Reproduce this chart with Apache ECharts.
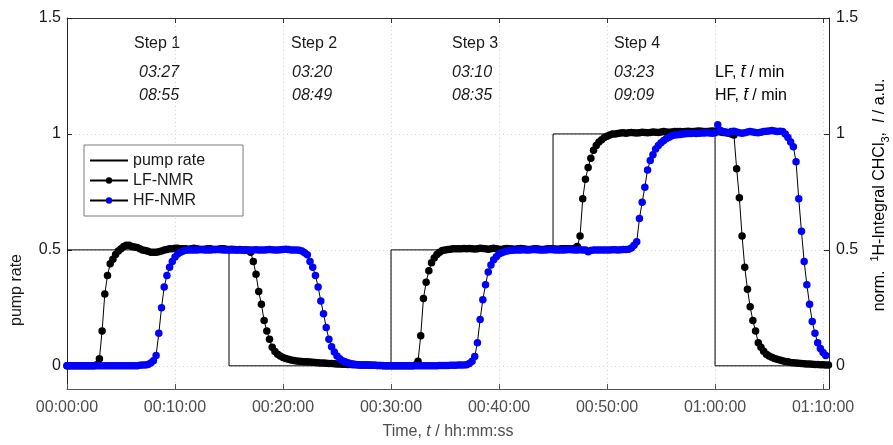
<!DOCTYPE html>
<html>
<head>
<meta charset="utf-8">
<script src="https://cdn.jsdelivr.net/npm/echarts@6/dist/echarts.min.js"></script>
<style>
html, body { margin: 0; padding: 0; background: #fff; }
#chart { width: 893px; height: 445px; }
</style>
</head>
<body>
<div id="chart"></div>
<script>
// 采样间隔 (min)
var sampleStep = 0.25;

// 泵速 阶跃
var pumpTime = [0, 15, 30, 45, 60, 70.5];
var pumpRate = [0.5, 0, 0.5, 1, 0, 0];

// LF-NMR 归一化积分
var lfValues = [
    0, 0, 0, 0,  0, 0, 0, 0,  0, 0, 0, 0.005,
    0.03, 0.15, 0.31, 0.39,  0.44, 0.46, 0.48, 0.495,
    0.505, 0.515, 0.52, 0.52,  0.515, 0.512, 0.51, 0.505,
    0.5, 0.497, 0.494, 0.49,  0.49, 0.49, 0.492, 0.495,
    0.5, 0.502, 0.505, 0.505,  0.507, 0.507, 0.505, 0.505,
    0.505, 0.503, 0.505, 0.507,  0.505, 0.503, 0.502, 0.503,
    0.505, 0.505, 0.503, 0.502,  0.503, 0.505, 0.505, 0.503,
    0.502, 0.503, 0.502, 0.5,  0.502, 0.5, 0.5, 0.5,
    0.49, 0.45, 0.395, 0.32,  0.265, 0.195, 0.15, 0.115,
    0.08, 0.062, 0.05, 0.042,  0.036, 0.031, 0.028, 0.025,
    0.023, 0.021, 0.02, 0.019,  0.018, 0.017, 0.016, 0.015,
    0.014, 0.013, 0.012, 0.012,  0.011, 0.01, 0.01, 0.009,
    0.008, 0.008, 0.007, 0.007,  0.006, 0.006, 0.005, 0.005,
    0.004, 0.004, 0.003, 0.003,  0.003, 0.002, 0.002, 0.001,
    0.001, 0, 0, 0,  0, 0, 0, 0,  0, 0, 0, 0,
    0, 0.003, 0.02, 0.13,  0.29, 0.36, 0.41, 0.445,
    0.465, 0.48, 0.49, 0.497,  0.5, 0.502, 0.503, 0.505,
    0.505, 0.505, 0.505, 0.506,  0.505, 0.506, 0.505, 0.504,
    0.505, 0.507, 0.506, 0.505,  0.503, 0.505, 0.507, 0.505,
    0.503, 0.502, 0.505, 0.506,  0.505, 0.504, 0.503, 0.505,
    0.506, 0.505, 0.503, 0.502,  0.503, 0.505, 0.505, 0.503,
    0.502, 0.503, 0.505, 0.505,  0.505, 0.504, 0.503, 0.505,
    0.505, 0.505, 0.505, 0.505,  0.507, 0.515, 0.56, 0.72,
    0.805, 0.855, 0.895, 0.93,  0.95, 0.965, 0.975, 0.985,
    0.99, 0.995, 1.0, 1.0,  1.002, 1.004, 1.005, 1.003,
    1.005, 1.006, 1.005, 1.004,  1.005, 1.007, 1.006, 1.005,
    1.006, 1.008, 1.007, 1.006,  1.008, 1.01, 1.008, 1.007,
    1.008, 1.01, 1.011, 1.01,  1.009, 1.01, 1.012, 1.011,
    1.01, 1.012, 1.013, 1.012,  1.011, 1.01, 1.012, 1.013,
    1.012, 1.01, 1.008, 1.006,  1.005, 1.003, 1.0, 0.995,
    0.85, 0.725, 0.56, 0.425,  0.33, 0.255, 0.195, 0.15,
    0.1, 0.08, 0.063, 0.05,  0.042, 0.037, 0.032, 0.028,
    0.025, 0.022, 0.019, 0.017,  0.014, 0.013, 0.012, 0.011,
    0.01, 0.009, 0.008, 0.008,  0.007, 0.006, 0.006, 0.005,
    0.005, 0.004, 0.004
];

// HF-NMR 归一化积分
var hfValues = [
    0, 0, 0, 0,  0, 0, 0, 0,  0, 0, 0, 0,  0, 0, 0, 0,
    0, 0, 0, 0,  0, 0, 0, 0,  0, 0, 0, 0.002,
    0.003, 0.004, 0.006, 0.012,  0.022, 0.045, 0.14, 0.25,
    0.34, 0.39, 0.425, 0.45,  0.469, 0.482, 0.49, 0.495,
    0.498, 0.5, 0.5, 0.5,  0.5, 0.501, 0.502, 0.5,
    0.5, 0.5, 0.501, 0.502,  0.502, 0.501, 0.5, 0.5,
    0.5, 0.499, 0.5, 0.501,  0.5, 0.5, 0.499, 0.498,
    0.499, 0.5, 0.501, 0.5,  0.5, 0.5, 0.501, 0.502,
    0.501, 0.5, 0.5, 0.501,  0.502, 0.503, 0.502, 0.5,
    0.5, 0.5, 0.498, 0.495,  0.488, 0.479, 0.45, 0.425,
    0.39, 0.34, 0.28, 0.225,  0.165, 0.115, 0.082, 0.06,
    0.042, 0.03, 0.022, 0.017,  0.013, 0.01, 0.008, 0.006,
    0.005, 0.004, 0.003, 0.003,  0.002, 0.002, 0.002, 0.001,
    0.001, 0.001, 0, 0,  0, 0, 0, 0,  0, 0, 0, 0,
    0, 0, 0, 0,  0, 0, 0, 0,  0, 0, 0.001, 0.001,
    0.001, 0.001, 0.002, 0.002,  0.002, 0.003, 0.003, 0.004,
    0.005, 0.01, 0.02, 0.04,  0.1, 0.2, 0.285, 0.35,
    0.405, 0.435, 0.457, 0.47,  0.482, 0.488, 0.492, 0.495,
    0.497, 0.498, 0.5, 0.5,  0.5, 0.501, 0.5, 0.5,
    0.501, 0.502, 0.501, 0.5,  0.5, 0.5, 0.501, 0.502,
    0.501, 0.5, 0.5, 0.5,  0.5, 0.501, 0.502, 0.501,
    0.5, 0.5, 0.501, 0.5,  0.5, 0.492, 0.497, 0.499,
    0.5, 0.5, 0.5, 0.5,  0.5, 0.5, 0.501, 0.501,
    0.5, 0.501, 0.502, 0.502,  0.503, 0.508, 0.52, 0.535,
    0.635, 0.705, 0.77, 0.845,  0.885, 0.91, 0.935, 0.95,
    0.962, 0.972, 0.98, 0.986,  0.992, 0.995, 0.997, 0.998,
    1.0, 1.001, 1.002, 1.002,  1.003, 1.002, 1.003, 1.004,
    1.004, 1.005, 1.004, 1.003,  1.005, 1.04, 1.015, 1.01,
    1.008, 1.005, 1.01, 1.012,  1.008, 1.005, 1.003, 1.005,
    1.008, 1.01, 1.008, 1.006,  1.005, 1.007, 1.01, 1.012,
    1.013, 1.015, 1.013, 1.01,  1.012, 1.01, 1.0, 0.985,
    0.965, 0.945, 0.88, 0.72,  0.58, 0.45, 0.35, 0.265,
    0.191, 0.14, 0.1, 0.075,  0.057, 0.045
];

// 刻度
var xTicks = [0, 10, 20, 30, 40, 50, 60, 70];
var yTicks = [0, 0.5, 1, 1.5];

// 标注文字
var stepNames = ['Step 1', 'Step 2', 'Step 3', 'Step 4'];
var lfMeanTimes = ['03:27', '03:20', '03:10', '03:23'];
var hfMeanTimes = ['08:55', '08:49', '08:35', '09:09'];

var FONT = '"Liberation Sans", Arial, sans-serif';

function toPairs (values) {
    return values.map(function (v, i) { return [i * sampleStep, v]; });
}

function pad (n) { return (n < 10 ? '0' : '') + n; }

// 分钟 -> hh:mm:ss
function fmtTime (m) {
    var s = Math.round(m * 60);
    return pad(Math.floor(s / 3600)) + ':' + pad(Math.floor(s % 3600 / 60)) + ':' + pad(s % 60);
}

function initChart () {
    var chart = echarts.init(document.getElementById('chart'), null, { renderer: 'canvas' });

    var pumpData = pumpTime.map(function (t, i) { return [t, pumpRate[i]]; });

    // 顶部标注
    var stepX = [134, 291, 452, 614];
    var timeX = [139, 292, 452, 614];
    var graphics = [];
    stepNames.forEach(function (name, i) {
        graphics.push({ type: 'text', x: stepX[i], y: 44, style: { text: name, font: '16px ' + FONT, fill: '#1a1a1a', verticalAlign: 'middle' } });
        graphics.push({ type: 'text', x: timeX[i], y: 73, style: { text: lfMeanTimes[i], font: 'italic 16px ' + FONT, fill: '#1a1a1a', verticalAlign: 'middle' } });
        graphics.push({ type: 'text', x: timeX[i], y: 96, style: { text: hfMeanTimes[i], font: 'italic 16px ' + FONT, fill: '#1a1a1a', verticalAlign: 'middle' } });
    });
    var richT = {
        n: { fontFamily: FONT, fontSize: 16, color: '#1a1a1a' },
        i: { fontFamily: FONT, fontSize: 16, fontStyle: 'italic', color: '#1a1a1a' }
    };
    graphics.push({ type: 'text', x: 715, y: 73, style: { text: '{n|LF, }{i|t\u0304}{n| / min}', rich: richT, verticalAlign: 'middle' } });
    graphics.push({ type: 'text', x: 715, y: 96, style: { text: '{n|HF, }{i|t\u0304}{n| / min}', rich: richT, verticalAlign: 'middle' } });

    // 纵轴名称
    graphics.push({
        type: 'text', x: 17, y: 290, rotation: Math.PI / 2,
        style: { text: 'pump rate', font: '16px ' + FONT, fill: '#1a1a1a', align: 'center', verticalAlign: 'middle' }
    });
    graphics.push({
        type: 'text', x: 880, y: 195, rotation: Math.PI / 2,
        style: {
            text: '{n|norm.  }{sup|1}{n|H-Integral CHCl}{sub|3}{n|,  }{i|I}{n| / a.u.}',
            align: 'center', verticalAlign: 'middle',
            rich: {
                n: { fontFamily: FONT, fontSize: 16, color: '#1a1a1a', lineHeight: 22 },
                i: { fontFamily: FONT, fontSize: 16, fontStyle: 'italic', color: '#1a1a1a', lineHeight: 22 },
                sup: { fontFamily: FONT, fontSize: 11, color: '#1a1a1a', lineHeight: 11, verticalAlign: 'top' },
                sub: { fontFamily: FONT, fontSize: 11, color: '#1a1a1a', lineHeight: 11, verticalAlign: 'bottom' }
            }
        }
    });

    var axisBase = {
        type: 'value',
        min: 0,
        max: 70.55
    };

    var option = {
        animation: false,
        backgroundColor: '#fff',
        grid: { left: 67, right: 64, top: 18, bottom: 51 },
        legend: {
            orient: 'vertical',
            left: 84,
            top: 145,
            data: [
                { name: 'pump rate', itemStyle: { color: 'rgba(0,0,0,0)', borderWidth: 0 } },
                'LF-NMR',
                'HF-NMR'
            ],
            backgroundColor: '#fff',
            borderColor: '#7a7a7a',
            borderWidth: 1,
            borderRadius: 0,
            padding: [7, 38, 7, 5],
            itemGap: 3,
            itemWidth: 38,
            itemHeight: 8,
            textStyle: { fontFamily: FONT, fontSize: 16, color: '#1a1a1a', lineHeight: 17 }
        },
        xAxis: [
            Object.assign({}, axisBase, {
                position: 'bottom',
                name: '{n|Time, }{i|t}{n| / hh:mm:ss}',
                nameLocation: 'middle',
                nameGap: 35,
                nameTextStyle: {
                    rich: {
                        n: { fontFamily: FONT, fontSize: 16, color: '#4d4d4d' },
                        i: { fontFamily: FONT, fontSize: 16, fontStyle: 'italic', color: '#4d4d4d' }
                    }
                },
                axisLine: { show: true, onZero: false, lineStyle: { color: '#555', width: 1 } },
                axisTick: { show: true, inside: true, length: 5, customValues: xTicks, lineStyle: { color: '#555' } },
                axisLabel: { customValues: xTicks, formatter: fmtTime, color: '#4d4d4d', fontFamily: FONT, fontSize: 16, margin: 11 },
                splitLine: { show: true, lineStyle: { color: '#d6d6d6', type: [1, 3] } }
            }),
            Object.assign({}, axisBase, {
                position: 'top',
                axisLine: { show: true, onZero: false, lineStyle: { color: '#333', width: 1 } },
                axisTick: { show: true, inside: true, length: 5, customValues: xTicks, lineStyle: { color: '#333' } },
                axisLabel: { show: false },
                splitLine: { show: false }
            })
        ],
        yAxis: [
            {
                type: 'value', min: -0.1, max: 1.5, position: 'left',
                axisLine: { show: true, onZero: false, lineStyle: { color: '#262626', width: 1 } },
                axisTick: { show: true, inside: true, length: 5, customValues: yTicks, lineStyle: { color: '#262626' } },
                axisLabel: { customValues: yTicks, color: '#1a1a1a', fontFamily: FONT, fontSize: 16, margin: 6 },
                splitLine: { show: true, lineStyle: { color: '#d6d6d6', type: [1, 3] } }
            },
            {
                type: 'value', min: -0.1, max: 1.5, position: 'right',
                axisLine: { show: true, onZero: false, lineStyle: { color: '#262626', width: 1 } },
                axisTick: { show: true, inside: true, length: 5, customValues: yTicks, lineStyle: { color: '#262626' } },
                axisLabel: { customValues: yTicks, color: '#1a1a1a', fontFamily: FONT, fontSize: 16, margin: 7 },
                splitLine: { show: false }
            }
        ],
        graphic: graphics,
        series: [
            {
                name: 'pump rate',
                type: 'line',
                xAxisIndex: 0,
                yAxisIndex: 0,
                step: 'end',
                symbol: 'none',
                lineStyle: { color: '#000', width: 1 },
                itemStyle: { color: '#000' },
                data: pumpData
            },
            {
                name: 'LF-NMR',
                type: 'line',
                xAxisIndex: 0,
                yAxisIndex: 0,
                symbol: 'circle',
                symbolSize: 7.5,
                showAllSymbol: true,
                lineStyle: { color: '#000', width: 1 },
                itemStyle: { color: '#000' },
                data: toPairs(lfValues)
            },
            {
                name: 'HF-NMR',
                type: 'line',
                xAxisIndex: 0,
                yAxisIndex: 0,
                symbol: 'circle',
                symbolSize: 7.5,
                showAllSymbol: true,
                lineStyle: { color: '#000', width: 1 },
                itemStyle: { color: '#0000ff' },
                data: toPairs(hfValues)
            }
        ]
    };
    chart.setOption(option);
    return chart;
}

var mainChart = initChart();
window.onresize = function () {
    mainChart.resize();
};
</script>
</body>
</html>
